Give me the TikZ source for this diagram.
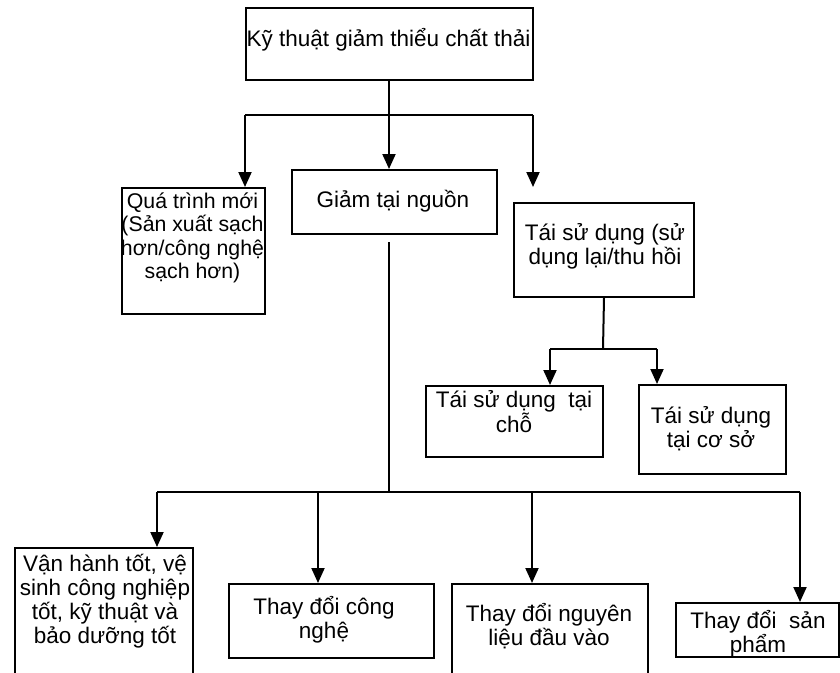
\documentclass[tikz,border=0pt]{standalone}
\usepackage{fontspec}
\setmainfont{Liberation Sans}
\usetikzlibrary{arrows.meta}
\begin{document}
\begin{tikzpicture}[x=1pt,y=-1pt,
  box/.style={draw,line width=2pt,inner sep=0pt,anchor=north west},
  txt/.style={font=\fontsize{22.5}{24}\selectfont,align=center,inner sep=0pt},
  conn/.style={line width=2pt},
  arr/.style={conn,-{Triangle[width=13pt,length=15pt]}}]
\useasboundingbox (0,0) rectangle (840,672);
% boxes
\node[box,minimum width=287pt,minimum height=72pt] (top) at (245,7) {};
\node[box,minimum width=143pt,minimum height=126pt] (qtm) at (121,187) {};
\node[box,minimum width=205pt,minimum height=64pt] (gtn) at (291,169) {};
\node[box,minimum width=180pt,minimum height=94pt] (tsd) at (513,202) {};
\node[box,minimum width=177pt,minimum height=71pt] (tsdc) at (425,385) {};
\node[box,minimum width=147pt,minimum height=89pt] (tsdcs) at (638,384) {};
\node[box,minimum width=178pt,minimum height=140pt] (b1) at (14,547) {};
\node[box,minimum width=205pt,minimum height=74pt] (b2) at (228,583) {};
\node[box,minimum width=196pt,minimum height=110pt] (b3) at (451,583) {};
\node[box,minimum width=163pt,minimum height=54pt] (b4) at (675,602) {};
% texts
\node[txt] (ttop) at (388.5,40) {Kỹ thuật giảm thiểu chất thải};
\node[txt,font=\fontsize{21.3}{23.5}\selectfont] (tqtm) at (192.5,238) {Quá trình mới\\(Sản xuất sạch\\hơn/công nghệ\\sạch hơn)};
\node[txt] (tgtn) at (393,201) {Giảm tại nguồn};
\node[txt] (ttsd) at (605,246) {Tái sử dụng (sử\\dụng lại/thu hồi};
\node[txt] (ttsdc) at (514,412) {Tái sử dụng\ \ tại\\chỗ};
\node[txt] (ttsdcs) at (711,428.5) {Tái sử dụng\\tại cơ sở};
\node[txt] (tb1) at (105,601) {Vận hành tốt, vệ\\sinh công nghiệp\\tốt, kỹ thuật và\\bảo dưỡng tốt};
\node[txt] (tb2) at (324,619.5) {Thay đổi công\\nghệ};
\node[txt] (tb3) at (549,626.5) {Thay đổi nguyên\\liệu đầu vào};
\node[txt,font=\fontsize{22.5}{22}\selectfont] (tb4) at (758,634) {Thay đổi\ \ sản\\phẩm};
% connectors from top
\coordinate (j1) at (389,115);
\coordinate (jl) at (245,115);
\coordinate (jr) at (533,115);
\coordinate (tsdin) at (533,187);
\draw[conn] (389,79) -- (j1);
\draw[conn] (jl) -- (jr);
\draw[arr] (jl) -- (jl |- qtm.north);
\draw[arr] (j1) -- (j1 |- gtn.north);
\draw[arr] (jr) -- (tsdin);
% connectors from gtn
\coordinate (g1) at (389,242);
\coordinate (g2) at (389,492);
\coordinate (gl) at (157,492);
\coordinate (gr) at (800,492);
\coordinate (gb2) at (318,492);
\coordinate (gb3) at (532,492);
\draw[conn] (g1) -- (g2);
\draw[conn] (gl) -- (gr);
\draw[arr] (gl) -- (gl |- b1.north);
\draw[arr] (gb2) -- (gb2 |- b2.north);
\draw[arr] (gb3) -- (gb3 |- b3.north);
\draw[arr] (gr) -- (gr |- b4.north);
% connectors from tsd
\coordinate (t1) at (603,349);
\coordinate (tl) at (550,349);
\coordinate (tr) at (657,349);
\draw[conn] (tsd.south) -- (t1);
\draw[conn] (tl) -- (tr);
\draw[arr] (tl) -- (tl |- tsdc.north);
\draw[arr] (tr) -- (tr |- tsdcs.north);
\end{tikzpicture}
\end{document}
